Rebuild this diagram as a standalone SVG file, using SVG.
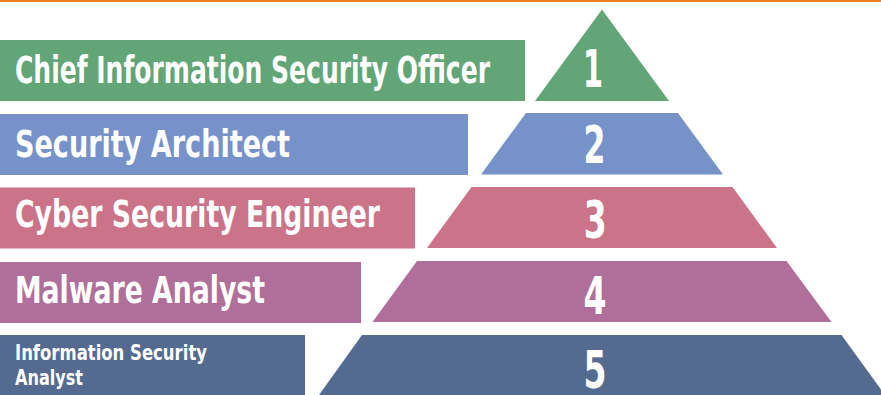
<svg xmlns="http://www.w3.org/2000/svg" width="881" height="395" viewBox="0 0 881 395">
  <style>
    .label { font-family: "Liberation Sans Narrow", "DejaVu Sans Condensed", "Liberation Sans", sans-serif; font-weight: bold; fill: #ffffff; }
    .num { font-family: "Liberation Sans Narrow", "DejaVu Sans Condensed", "Liberation Sans", sans-serif; font-weight: bold; fill: #ffffff; font-size: 52px; text-anchor: middle; }
    .l1 { fill: #62a577; }
    .l2 { fill: #7792c9; }
    .l3 { fill: #cb7388; }
    .l4 { fill: #b06f9a; }
    .l5 { fill: #546a8f; }
  </style>
  <rect width="881" height="395" fill="#ffffff"/>
  <!-- top rule -->
  <rect x="0" y="0" width="881" height="2" fill="#ed8023"/>

  <g id="level-1">
    <rect class="l1" x="0" y="40" width="525" height="61"/>
    <polygon class="l1" points="602,9.5 669,101 535,101"/>
    <text class="label" x="15" y="83.3" font-size="37" textLength="475" lengthAdjust="spacingAndGlyphs">Chief Information Security Officer</text>
    <text class="num" x="593" y="86.7" textLength="20" lengthAdjust="spacingAndGlyphs">1</text>
  </g>

  <g id="level-2">
    <rect class="l2" x="0" y="114" width="468" height="61"/>
    <polygon class="l2" points="526,113 678,113 723,174.5 481,174.5"/>
    <text class="label" x="15" y="157" font-size="37" textLength="275" lengthAdjust="spacingAndGlyphs">Security Architect</text>
    <text class="num" x="594.5" y="163" textLength="22" lengthAdjust="spacingAndGlyphs">2</text>
  </g>

  <g id="level-3">
    <rect class="l3" x="0" y="187.5" width="415" height="61"/>
    <polygon class="l3" points="471.5,187 732.5,187 777,248 427,248"/>
    <text class="label" x="15" y="226.7" font-size="37" textLength="365" lengthAdjust="spacingAndGlyphs">Cyber Security Engineer</text>
    <text class="num" x="595.3" y="238.3" textLength="23" lengthAdjust="spacingAndGlyphs">3</text>
  </g>

  <g id="level-4">
    <rect class="l4" x="0" y="262" width="361" height="61"/>
    <polygon class="l4" points="417,261 786.5,261 831.5,322 372.5,322"/>
    <text class="label" x="15" y="303.3" font-size="37" textLength="250" lengthAdjust="spacingAndGlyphs">Malware Analyst</text>
    <text class="num" x="595" y="314" textLength="23" lengthAdjust="spacingAndGlyphs">4</text>
  </g>

  <g id="level-5">
    <rect class="l5" x="0" y="335" width="305" height="60"/>
    <polygon class="l5" points="362,335 841.5,335 885,395 319,395"/>
    <text class="label" x="15" y="360" font-size="22" textLength="192" lengthAdjust="spacingAndGlyphs">Information Security</text>
    <text class="label" x="15" y="385" font-size="22" textLength="68" lengthAdjust="spacingAndGlyphs">Analyst</text>
    <text class="num" x="595" y="388" textLength="23" lengthAdjust="spacingAndGlyphs">5</text>
  </g>
</svg>
